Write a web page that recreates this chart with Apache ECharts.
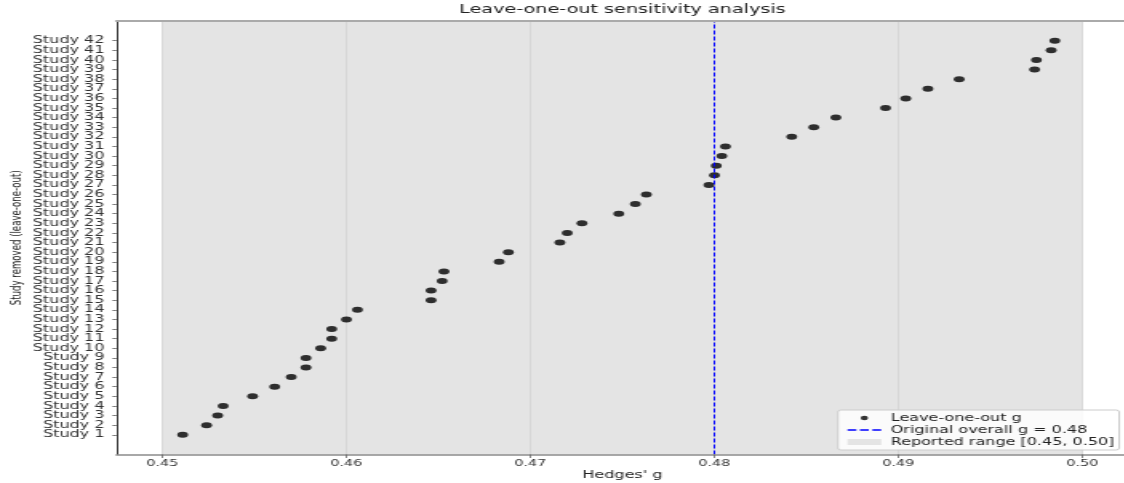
<!DOCTYPE html>
<html>
<head>
<meta charset="utf-8">
<script src="https://cdn.jsdelivr.net/npm/echarts@6/dist/echarts.min.js"></script>
<style>
html,body{margin:0;padding:0;width:1124px;height:483px;overflow:hidden;background:#fff;}
#wrap{position:absolute;left:0;top:0;width:1124px;height:483px;overflow:hidden;}
#chart{position:absolute;left:0;top:0;width:710px;height:483px;transform:scaleX(1.6);transform-origin:0 0;}
</style>
</head>
<body>
<div id="wrap"><div id="chart"></div></div>
<script>
// ---- data ----
const studies = ['Study 1','Study 2','Study 3','Study 4','Study 5','Study 6','Study 7','Study 8','Study 9','Study 10',
  'Study 11','Study 12','Study 13','Study 14','Study 15','Study 16','Study 17','Study 18','Study 19','Study 20',
  'Study 21','Study 22','Study 23','Study 24','Study 25','Study 26','Study 27','Study 28','Study 29','Study 30',
  'Study 31','Study 32','Study 33','Study 34','Study 35','Study 36','Study 37','Study 38','Study 39','Study 40',
  'Study 41','Study 42'];
const looG = [0.4511, 0.4524, 0.4530, 0.4533, 0.4549, 0.4561, 0.4570, 0.4578, 0.4578, 0.4586,
  0.4592, 0.4592, 0.4600, 0.4606, 0.4646, 0.4646, 0.4652, 0.4653, 0.4683, 0.4688,
  0.4716, 0.4720, 0.4728, 0.4748, 0.4757, 0.4763, 0.4797, 0.4800, 0.4801, 0.4804,
  0.4806, 0.4842, 0.4854, 0.4866, 0.4893, 0.4904, 0.4916, 0.4933, 0.4974, 0.4975,
  0.4983, 0.4985];
const xTicks = [0.45, 0.46, 0.47, 0.48, 0.49, 0.50];
const overallG = 0.48;
const reportedRange = [0.45, 0.50];
const titleText = 'Leave-one-out sensitivity analysis';
const xName = "Hedges' g";
const yName = 'Study removed (leave-one-out)';
const seriesNames = ['Leave-one-out g', 'Original overall g = 0.48', 'Reported range [0.45, 0.50]'];

// ---- chart ----
const FONT = 'DejaVu Sans';
const studyIdx = studies.map((_, i) => i);
// empty guard labels just outside the study rows keep ECharts from hiding the end labels
const yLabelValues = [-2].concat(studyIdx, [studies.length + 1]);
const chart = echarts.init(document.getElementById('chart'));

const option = {
  animation: false,
  backgroundColor: '#ffffff',
  textStyle: { fontFamily: FONT },
  title: {
    text: titleText,
    left: 287, top: 4, padding: 0,
    textStyle: { fontFamily: FONT, fontSize: 12, fontWeight: 'normal', color: '#222' }
  },
  grid: { left: 72.8, top: 21, width: 632.5, height: 433.5, show: false, containLabel: false, outerBoundsMode: 'none' },
  xAxis: [{
    type: 'value', min: 0.4475, max: 0.5025, z: 6, position: 'bottom',
    name: xName, nameLocation: 'middle', nameGap: 15.5, nameMoveOverlap: false,
    nameTextStyle: { fontFamily: FONT, fontSize: 10, color: '#222' },
    axisLine: { show: true, onZero: false, lineStyle: { color: '#8c8c8c', width: 1.5 } },
    axisTick: { show: true, customValues: xTicks, length: 3.5, lineStyle: { color: '#666', width: 0.8 } },
    axisLabel: { customValues: xTicks, formatter: v => v.toFixed(2), fontFamily: FONT, fontSize: 9, color: '#333', margin: 5 },
    splitLine: { show: false }
  }, {
    type: 'value', min: 0.4475, max: 0.5025, position: 'top', z: 6,
    axisLine: { show: true, onZero: false, lineStyle: { color: '#aaaaaa', width: 2 } },
    axisTick: { show: false }, axisLabel: { show: false }, splitLine: { show: false }
  }],
  yAxis: {
    type: 'value', min: -2.05, max: 43.05, z: 6, position: 'left',
    name: yName, nameLocation: 'middle', nameGap: 57.5, nameRotate: 90, nameMoveOverlap: false,
    nameTextStyle: { fontFamily: FONT, fontSize: 8.6, color: '#222' },
    axisLine: { show: true, onZero: false, lineStyle: { color: '#333', width: 1 } },
    axisTick: { show: true, customValues: studyIdx, length: 2.5, lineStyle: { color: '#555', width: 0.8 } },
    axisLabel: { customValues: yLabelValues, showMinLabel: true, showMaxLabel: true, hideOverlap: false,
      formatter: v => studies[Math.round(v)] || '', fontFamily: FONT, fontSize: 10, lineHeight: 8.5, color: '#333', margin: 7.5 },
    splitLine: { show: false }
  },
  legend: {
    orient: 'vertical', left: 523.75, top: 410,
    selectedMode: false,
    itemWidth: 24, itemHeight: 7, itemGap: 0,
    padding: [2, 3, 2, 4],
    backgroundColor: 'rgba(255,255,255,0.85)', borderColor: '#cccccc', borderWidth: 1, borderRadius: 2,
    textStyle: { fontFamily: FONT, fontSize: 10, color: '#222', lineHeight: 12 },
    data: [
      { name: seriesNames[0], icon: 'path://M0 0M24 7M10.2 3.5A2.3 2.3 0 1 1 14.8 3.5A2.3 2.3 0 1 1 10.2 3.5Z', itemStyle: { color: '#000', borderWidth: 0 } },
      { name: seriesNames[1], icon: 'path://M0 0M24 7M2 2.75h5.5v1.5H2zM9.75 2.75h5.5v1.5h-5.5zM17.5 2.75h5.5v1.5h-5.5z', itemStyle: { color: '#0000ff', borderWidth: 0 } },
      { name: seriesNames[2], icon: 'path://M0 0M24 7M2 0.5h21v6H2z', itemStyle: { color: '#dedede', borderWidth: 0 } }
    ]
  },
  series: [
    {
      name: seriesNames[2], type: 'scatter', data: [], z: 1,
      itemStyle: { color: '#dedede' },
      markArea: {
        silent: true, z: 1,
        itemStyle: { color: '#e4e4e4' },
        data: [[{ xAxis: reportedRange[0] }, { xAxis: reportedRange[1] }]]
      }
    },
    {
      name: 'grid', type: 'scatter', data: [], z: 2,
      markLine: {
        silent: true, z: 2, symbol: ['none', 'none'], label: { show: false },
        lineStyle: { color: '#d3d3d3', width: 0.8, type: 'solid' },
        data: xTicks.map(v => ({ xAxis: v }))
      }
    },
    {
      name: seriesNames[0], type: 'scatter', z: 4,
      symbol: 'circle', symbolSize: [6.8, 6],
      itemStyle: { color: '#000' },
      data: looG.map((g, i) => [g, i])
    },
    {
      name: seriesNames[1], type: 'line', data: [], symbol: 'none', z: 5,
      itemStyle: { color: '#0000ff' },
      lineStyle: { color: '#0000ff', width: 1, type: [4, 2] },
      markLine: {
        silent: true, z: 5, symbol: ['none', 'none'], label: { show: false },
        lineStyle: { color: '#0000ff', width: 1, type: [4, 2] },
        data: [{ xAxis: overallG }]
      }
    }
  ]
};
chart.setOption(option);
</script>
</body>
</html>
